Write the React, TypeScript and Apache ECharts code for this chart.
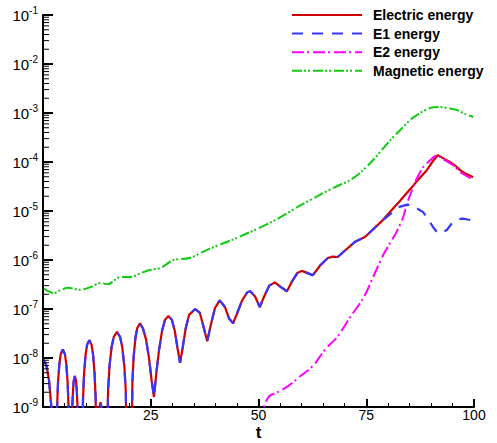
import React, { useEffect, useRef } from "react";
import * as echarts from "echarts";

// ---------- data ----------
const tElectric = [
  0.2, 0.8, 1.4, 1.9, 2.3, 2.6,
  3.0, 3.26, 3.48, 3.8, 4.12, 4.6, 5.08, 5.4, 5.72, 5.94, 6.2,
  6.5, 6.65, 6.77, 6.95, 7.13, 7.4, 7.67, 7.85, 8.03, 8.15, 8.3,
  9.0, 9.28, 9.53, 9.88, 10.23, 10.75, 11.27, 11.62, 11.97, 12.22, 12.5,
  12.75, 13.0, 13.15, 13.35, 13.55, 13.7, 13.95,
  14.7, 15.09, 15.43, 15.93, 16.42, 17.15, 17.88, 18.37, 18.87, 19.21, 19.6,
  20.4, 20.74, 21.03, 21.45, 21.87, 22.5, 23.2, 23.9, 24.6, 25.2, 25.75,
  26.3, 26.9, 27.6, 28.3, 29.1, 29.9, 30.6, 31.2, 31.8, 32.4, 33.1, 33.9,
  35.3, 36.4, 37.2, 38.1, 39.0, 39.9, 41.0, 42.2, 43.2, 44.1, 45.0, 46.2, 47.4, 48.1,
  49.2, 50.3, 51.3, 52.5, 53.8, 55.2, 56.6, 57.9, 59.0, 60.1, 61.4, 62.6, 64.4, 66.1, 67.2, 68.4,
  70.4, 72.4, 74.7, 76.8, 78.9, 80.5, 82.8, 85.2, 87.2, 89.1, 90.5, 91.6, 93.0, 94.4, 95.6, 96.7, 98.0, 99.8,
];
const electric = [
  9.1e-9, 7e-9, 3.5e-9, 1.1e-9, 2.5e-10, 1e-11,
  1e-11, 9.3e-10, 3.1e-9, 7.6e-9, 1.2e-8, 1.5e-8, 1.2e-8, 7.6e-9, 3.1e-9, 9.3e-10, 1e-11,
  1e-11, 2.7e-10, 8.8e-10, 2.1e-9, 3.4e-9, 4.3e-9, 3.4e-9, 2.1e-9, 8.8e-10, 2.7e-10, 1e-11,
  1e-11, 1.45e-9, 4.8e-9, 1.17e-8, 1.86e-8, 2.3e-8, 1.86e-8, 1.17e-8, 4.8e-9, 1.45e-9, 1e-11,
  1e-11, 4e-10, 1e-9, 1.26e-9, 1e-9, 4e-10, 1e-11,
  1e-11, 2.1e-9, 6.9e-9, 1.7e-8, 2.7e-8, 3.4e-8, 2.7e-8, 1.7e-8, 6.9e-9, 2.1e-9, 1e-11,
  1e-11, 3.2e-9, 1.05e-8, 2.6e-8, 4.1e-8, 5.1e-8, 4e-8, 2.4e-8, 1e-8, 3.5e-9, 1.6e-9,
  5e-9, 1.4e-8, 3.5e-8, 6e-8, 7.2e-8, 6e-8, 3.5e-8, 1.6e-8, 8e-9, 1.6e-8, 4e-8, 7.6e-8,
  1e-7, 8.3e-8, 4.5e-8, 2.2e-8, 5e-8, 1.05e-7, 1.5e-7, 1.1e-7, 6.3e-8, 5.1e-8, 8e-8, 1.5e-7, 2.2e-7, 2.3e-7,
  1.8e-7, 1.1e-7, 1.8e-7, 3e-7, 3.5e-7, 2.8e-7, 2.3e-7, 3.8e-7, 5.4e-7, 6e-7, 5.4e-7, 4.9e-7, 7.9e-7, 1.1e-6, 1.17e-6, 1.15e-6,
  1.66e-6, 2.35e-6, 2.95e-6, 4.4e-6, 6.6e-6, 9.5e-6, 1.6e-5, 2.8e-5, 4.5e-5, 6.9e-5, 1.05e-4, 1.38e-4, 1.17e-4, 1e-4, 8.5e-5, 6.9e-5, 5.8e-5, 4.9e-5,
];
// E1 coincides with the electric energy up to t = 78.9, then separates
const e1SplitT = 78.9;
const tE1Late = [80.5, 82.5, 84.5, 85.9, 87.0, 88.2, 89.5, 90.5, 91.6, 92.5, 93.7, 95.1, 96.3, 97.4, 98.6, 99.8];
const e1Late = [8.5e-6, 1.2e-5, 1.35e-5, 1.32e-5, 1.1e-5, 9.5e-6, 6.5e-6, 4.7e-6, 3.5e-6, 3.6e-6, 4.1e-6, 6e-6, 6.8e-6, 7e-6, 6.7e-6, 6.5e-6];

const tE2 = [
  50.5, 51.2, 52.5, 54.4, 56.7, 58.2, 59.7, 61.5, 63.2, 64.8, 66.5, 68.3, 71.3, 74.3, 76.6, 79.0, 80.5,
  82.0, 83.5, 84.5, 85.5, 86.3, 87.2, 88.2, 89.5, 91.4, 93.0, 94.4, 95.6, 96.7, 98.0, 99.1, 99.8,
];
const e2 = [
  5e-10, 1e-9, 1.66e-9, 2e-9, 2.6e-9, 3.3e-9, 4.3e-9, 5.6e-9, 7.9e-9, 1.26e-8, 1.86e-8, 2.7e-8, 6.9e-8,
  1.66e-7, 4.5e-7, 1.3e-6, 2.2e-6, 3.7e-6, 7.2e-6, 1.45e-5, 2.5e-5, 3.9e-5, 5.5e-5, 7.9e-5, 1.02e-4,
  1.35e-4, 1.12e-4, 9.5e-5, 8e-5, 6.3e-5, 5.4e-5, 4.7e-5, 4.5e-5,
];

const tMag = [
  0.2, 2.5, 4.0, 5.8, 8.8, 11.0, 13.4, 15.0, 18.0, 20.4, 22.7, 25.0, 27.3, 30.3, 34.0, 38.9, 44.0, 48.0,
  54.0, 59.7, 63.4, 67.5, 71.3, 74.0, 76.6, 78.7, 80.6, 83.0, 85.2, 87.5, 89.8, 92.1, 94.0, 96.0, 98.0, 99.8,
];
const magnetic = [
  2.6e-7, 2.1e-7, 2.4e-7, 2.7e-7, 2.45e-7, 2.8e-7, 3.4e-7, 3.2e-7, 4.5e-7, 4.5e-7, 5.4e-7, 6.3e-7, 6.9e-7,
  1e-6, 1.1e-6, 1.74e-6, 2.6e-6, 3.7e-6, 6.6e-6, 1.3e-5, 1.95e-5, 3e-5, 4.3e-5, 6.5e-5, 1.1e-4, 1.8e-4,
  2.8e-4, 4.6e-4, 7.2e-4, 1e-3, 1.26e-3, 1.32e-3, 1.25e-3, 1.15e-3, 9.5e-4, 8.3e-4,
];

const seriesNames = ["Electric energy", "E1 energy", "E2 energy", "Magnetic energy"];
const xTicks = [0, 25, 50, 75, 100];
const yDecades = [-9, -8, -7, -6, -5, -4, -3, -2, -1];
const minorMultiples = [2, 3, 4, 5, 6, 7, 8, 9];

const FONT = "'Liberation Sans', Arial, Helvetica, sans-serif";

export default function App() {
  const ref = useRef<HTMLDivElement>(null);
  useEffect(() => {
    if (!ref.current) return;
    const chart = echarts.init(ref.current, undefined, { renderer: "svg" });

    const pair = (ts: number[], vs: number[]) => ts.map((t, i) => [t, vs[i]]);
    const electricData = pair(tElectric, electric);
    const e1Data = electricData.filter((p) => p[0] <= e1SplitT).concat(pair(tE1Late, e1Late));
    const e2Data = pair(tE2, e2);
    const magData = pair(tMag, magnetic);

    const minorVals: number[][] = [];
    for (let i = 0; i < yDecades.length - 1; i++) {
      for (const m of minorMultiples) minorVals.push([xTicks[0], m * Math.pow(10, yDecades[i])]);
    }

    const lineBase = {
      type: "line",
      showSymbol: false,
      symbol: "none",
      clip: true,
    };

    chart.setOption({
      animation: false,
      backgroundColor: "#fff",
      grid: { left: 43, right: 23, top: 15, bottom: 36, outerBoundsMode: "none", containLabel: false },
      legend: {
        data: seriesNames,
        orient: "vertical",
        left: 286,
        top: 3,
        itemWidth: 70,
        itemHeight: 14,
        itemGap: 4.6,
        itemStyle: { opacity: 0 },
        textStyle: { fontFamily: FONT, fontWeight: "bold", fontSize: 14, color: "#000", padding: [0, 0, 0, 6] },
      },
      xAxis: {
        type: "value",
        min: xTicks[0],
        max: xTicks[xTicks.length - 1],
        interval: 25,
        name: "t",
        nameLocation: "middle",
        nameGap: 17,
        nameMoveOverlap: false,
        nameTextStyle: { fontFamily: FONT, fontWeight: "bold", fontSize: 17, lineHeight: 17, color: "#000" },
        axisLine: { lineStyle: { color: "#000", width: 2 } },
        axisTick: { inside: true, length: 8, lineStyle: { color: "#000", width: 2 } },
        minorTick: { show: true, splitNumber: 5, length: 4, lineStyle: { color: "#000", width: 1 } },
        splitLine: { show: false },
        axisLabel: {
          margin: 1,
          fontFamily: FONT,
          fontSize: 14,
          lineHeight: 14,
          color: "#000",
          formatter: (v: number) => (v === xTicks[0] ? "" : String(v)),
        },
      },
      yAxis: {
        type: "log",
        logBase: 10,
        min: Math.pow(10, yDecades[0]),
        max: Math.pow(10, yDecades[yDecades.length - 1]),
        axisLine: { lineStyle: { color: "#000", width: 2 } },
        axisTick: { inside: true, length: 10, lineStyle: { color: "#000", width: 2 } },
        splitLine: { show: false },
        axisLabel: {
          margin: 5,
          color: "#000",
          formatter: (v: number) => `{b|10}{s|${Math.round(Math.log10(v))}}`,
          rich: {
            b: { fontFamily: FONT, fontSize: 15, color: "#000" },
            s: { fontFamily: FONT, fontSize: 10, color: "#000", padding: [0, 0, 9, 0] },
          },
        },
      },
      series: [
        {
          ...lineBase,
          name: seriesNames[0],
          data: electricData,
          z: 2,
          lineStyle: { color: "#d10000", width: 2.2 },
          itemStyle: { color: "#d10000" },
        },
        {
          ...lineBase,
          name: seriesNames[1],
          data: e1Data,
          z: 3,
          lineStyle: { color: "#3636ff", width: 2.2, type: [11, 9] },
          itemStyle: { color: "#3636ff" },
        },
        {
          ...lineBase,
          name: seriesNames[2],
          data: e2Data,
          z: 2,
          smooth: 0.3,
          lineStyle: { color: "#ff00ff", width: 2, type: [12, 3, 2, 4] },
          itemStyle: { color: "#ff00ff" },
        },
        {
          ...lineBase,
          name: seriesNames[3],
          data: magData,
          z: 2,
          smooth: 0.3,
          lineStyle: { color: "#11cc11", width: 2, type: [10, 2, 2, 2, 2, 3] },
          itemStyle: { color: "#11cc11" },
        },
        {
          type: "custom",
          name: "yMinorTicks",
          silent: true,
          clip: false,
          z: 5,
          data: minorVals,
          renderItem: (_params: any, api: any) => {
            const p = api.coord([api.value(0), api.value(1)]);
            return {
              type: "line",
              shape: { x1: p[0], y1: p[1], x2: p[0] + 6, y2: p[1] },
              style: { stroke: "#000", lineWidth: 1 },
            };
          },
        },
      ],
    });
    return () => chart.dispose();
  }, []);
  return <div ref={ref} style={{ position: "fixed", left: 0, top: 0, width: 497, height: 443 }} />;
}
